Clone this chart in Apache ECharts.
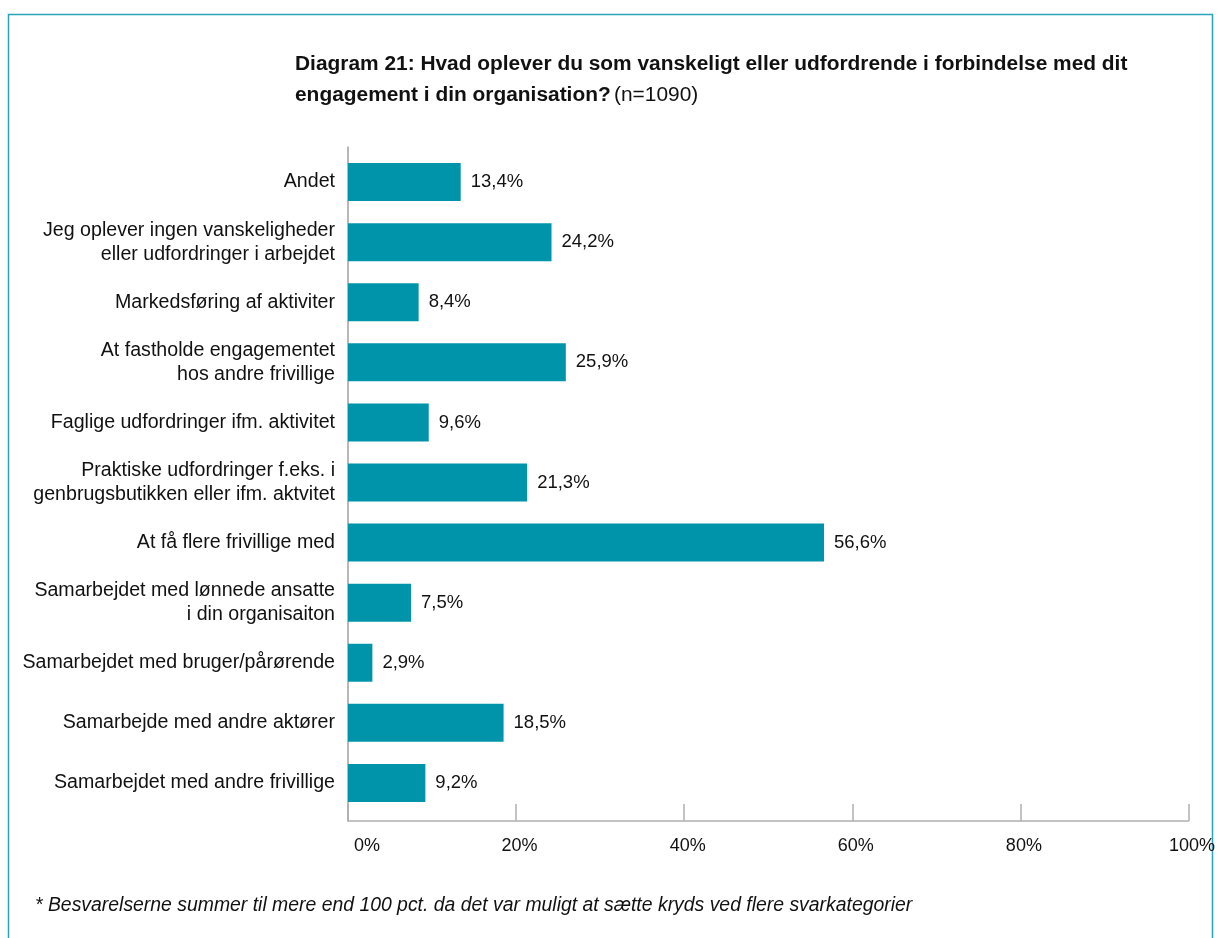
<!DOCTYPE html>
<html>
<head>
<meta charset="utf-8">
<style>
  html, body { margin: 0; padding: 0; background: #ffffff; }
  #chart { width: 1218px; height: 938px; }
</style>
<script src="https://cdn.jsdelivr.net/npm/echarts@6/dist/echarts.min.js"></script>
</head>
<body>
<div id="chart"></div>
<script>
// Answer categories, listed top to bottom
const categories = [
  'Andet',
  'Jeg oplever ingen vanskeligheder\neller udfordringer i arbejdet',
  'Markedsføring af aktiviter',
  'At fastholde engagementet\nhos andre frivillige',
  'Faglige udfordringer ifm. aktivitet',
  'Praktiske udfordringer f.eks. i\ngenbrugsbutikken eller ifm. aktvitet',
  'At få flere frivillige med',
  'Samarbejdet med lønnede ansatte\ni din organisaiton',
  'Samarbejdet med bruger/pårørende',
  'Samarbejde med andre aktører',
  'Samarbejdet med andre frivillige'
];

// Share of respondents (%)
const shares = [13.4, 24.2, 8.4, 25.9, 9.6, 21.3, 56.6, 7.5, 2.9, 18.5, 9.2];

// Percentage axis ticks
const axisTicks = [0, 20, 40, 60, 80, 100];

const titleLine1 = 'Diagram 21: Hvad oplever du som vanskeligt eller udfordrende i forbindelse med dit';
const titleLine2 = 'engagement i din organisation?';
const titleNote = '(n=1090)';
const footnote = '* Besvarelserne summer til mere end 100 pct. da det var muligt at sætte kryds ved flere svarkategorier';

const FONT = '"Liberation Sans", Arial, sans-serif';
const BAR = '#0094ab';
const FRAME = '#2aa3b8';
const INK = '#111111';
const AXIS = '#b0b0b0';

const xMin = axisTicks[0];
const xMax = axisTicks[axisTicks.length - 1];
const xStep = axisTicks[1] - axisTicks[0];

const chart = echarts.init(document.getElementById('chart'), null, { renderer: 'canvas' });

const fmt = v => v.toFixed(1).replace('.', ',') + '%';

chart.setOption({
  backgroundColor: '#ffffff',
  animation: false,
  textStyle: { fontFamily: FONT },
  graphic: [
    {
      type: 'rect',
      shape: { x: 8.5, y: 14.5, width: 1204, height: 940 },
      style: { fill: 'none', stroke: FRAME, lineWidth: 1.5 },
      silent: true
    },
    {
      type: 'text',
      left: 295,
      top: 54,
      style: {
        text: '{b|' + titleLine1 + '}\n{b|' + titleLine2 + '} {n|' + titleNote + '}',
        rich: {
          b: { fontFamily: FONT, fontSize: 20.9, fontWeight: 'bold', fill: INK, lineHeight: 31 },
          n: { fontFamily: FONT, fontSize: 20.9, fontWeight: 'normal', fill: INK, lineHeight: 31 }
        }
      }
    },
    {
      type: 'text',
      left: 35,
      top: 896,
      style: {
        text: footnote,
        fontFamily: FONT,
        fontSize: 19.4,
        fontStyle: 'italic',
        fill: INK
      }
    }
  ],
  // grid 0 holds the bars, grid 1 carries the visible axis frame
  grid: [
    { left: 348, right: 29, top: 152, bottom: 125, containLabel: false },
    { left: 348, right: 29, top: 147, bottom: 117, containLabel: false }
  ],
  xAxis: [
    {
      gridIndex: 0,
      type: 'value',
      min: xMin,
      max: xMax,
      interval: xStep,
      show: false
    },
    {
      gridIndex: 1,
      type: 'value',
      min: xMin,
      max: xMax,
      interval: xStep,
      axisLine: { show: true, lineStyle: { color: AXIS, width: 1.5 } },
      axisTick: { show: true, inside: true, length: 17, lineStyle: { color: AXIS, width: 1.5 } },
      splitLine: { show: false },
      axisLabel: {
        margin: 16,
        fontFamily: FONT,
        fontSize: 18,
        color: INK,
        formatter: v => (v === 0 ? '{z|0%}' : '{t|' + v + '%}'),
        rich: {
          z: { fontFamily: FONT, fontSize: 18, color: INK, padding: [0, 0, 0, 38] },
          t: { fontFamily: FONT, fontSize: 18, color: INK, padding: [0, 0, 0, 7] }
        }
      }
    }
  ],
  yAxis: [
    {
      gridIndex: 0,
      type: 'category',
      inverse: true,
      data: categories,
      axisLine: { show: false },
      axisTick: { show: false },
      splitLine: { show: false },
      axisLabel: {
        margin: 13,
        fontFamily: FONT,
        fontSize: 19.6,
        color: INK,
        lineHeight: 24,
        align: 'right'
      }
    },
    {
      gridIndex: 1,
      type: 'value',
      min: 0,
      max: 1,
      axisLine: { show: true, lineStyle: { color: '#a0a0a0', width: 1.5 } },
      axisTick: { show: false },
      axisLabel: { show: false },
      splitLine: { show: false }
    }
  ],
  series: [
    {
      type: 'bar',
      xAxisIndex: 0,
      yAxisIndex: 0,
      data: shares,
      barWidth: 38,
      itemStyle: { color: BAR },
      z: 3,
      label: {
        show: true,
        position: 'right',
        distance: 10,
        fontFamily: FONT,
        fontSize: 18.5,
        color: INK,
        formatter: p => fmt(p.value)
      }
    }
  ]
});
</script>
</body>
</html>
